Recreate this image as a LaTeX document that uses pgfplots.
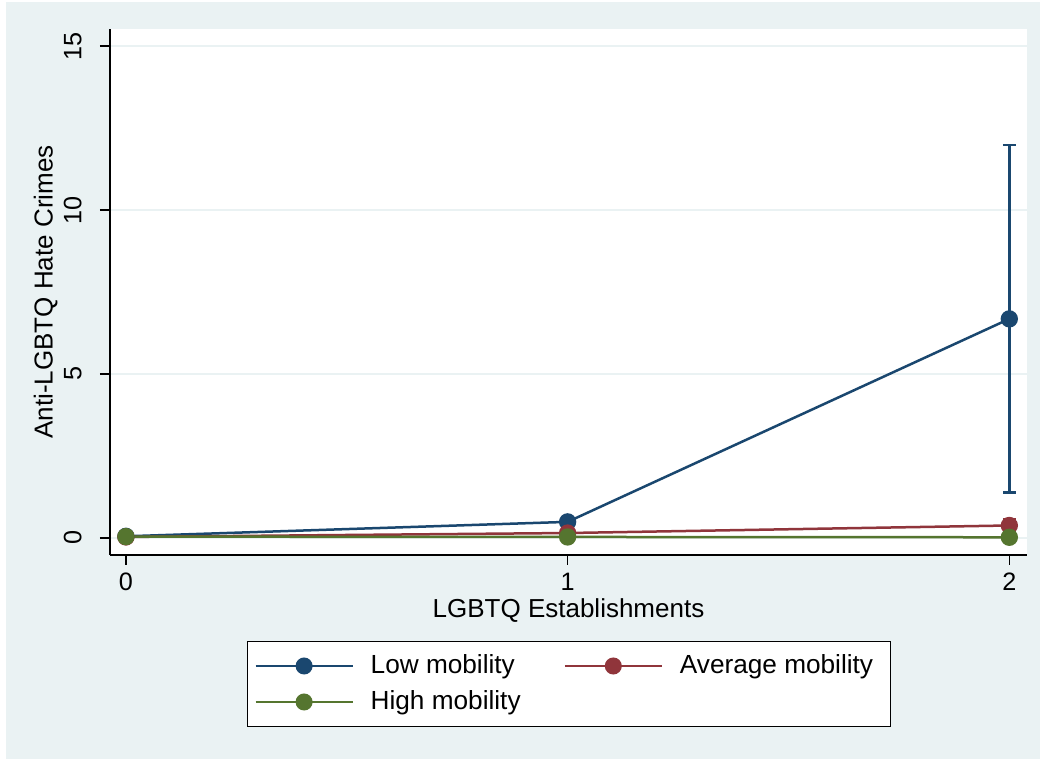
\documentclass[border=0pt]{standalone}
\usepackage{pgfplots}
\pgfplotsset{compat=1.18}
\usepackage{fontspec}
\setmainfont{Liberation Sans}
\definecolor{bgc}{RGB}{234,242,243}
\definecolor{snavy}{RGB}{26,71,111}
\definecolor{smaroon}{RGB}{144,53,59}
\definecolor{sgreen}{RGB}{85,117,47}
\pgfplotsset{ebars/.style={error bars/y dir=both, error bars/y explicit,
  error bars/error bar style={line width=1.2pt},
  error bars/error mark options={line width=1.2pt, mark size=3.25pt, rotate=90}}}
\begin{document}
\begin{tikzpicture}
\fill[white] (0,0) rectangle (520pt,379.5pt);
\fill[bgc] (3pt,0) rectangle (520pt,378.5pt);
\begin{axis}[
  at={(55pt,102pt)}, anchor=south west,
  scale only axis, width=458.5pt, height=263pt,
  xmin=-0.036, xmax=2.04, ymin=-0.52, ymax=15.52,
  axis background/.style={fill=white},
  axis lines*=left, axis line style={-, line width=0.75pt, black},
  xtick={0,1,2}, ytick={0,5,10,15},
  tick align=outside, major tick length=5pt,
  tick style={black, line width=0.75pt},
  /pgf/number format/assume math mode=true,
  ticklabel style={font=\fontsize{12.6}{14}\selectfont, inner sep=0pt},
  yticklabel style={rotate=90, anchor=south, yshift=9pt},
  xticklabel style={anchor=north, yshift=-4pt},
  ymajorgrids, grid style={bgc, line width=0.75pt},
  xlabel={LGBTQ Establishments}, ylabel={Anti-LGBTQ Hate Crimes},
  label style={font=\fontsize{13}{15}\selectfont, inner sep=0pt},
  xlabel style={at={(axis description cs:0.5,0)}, anchor=north, yshift=-21.5pt},
  ylabel style={at={(axis description cs:0,0.5)}, anchor=south, yshift=26pt},
  legend columns=2,
  legend style={at={(0.1494,-0.1635)}, anchor=north west, draw=black, line width=0.5pt, fill=white,
    inner xsep=3.5pt, inner ysep=3.25pt, column sep=0pt, row sep=0pt,
    font=\fontsize{13.1}{15}\selectfont,
    nodes={inner sep=0pt, minimum height=18pt, anchor=west}},
  legend image code/.code={\draw[mark repeat=2,mark phase=2, line width=1.1pt] plot coordinates {(0pt,0pt) (24.25pt,0pt) (48.5pt,0pt)};},
  every axis plot/.append style={line width=1.25pt, mark=*, mark size=3.7pt},
]
\addplot[snavy, mark options={fill=snavy, draw=snavy}, ebars] table[x=x, y=y, y error plus=e, y error minus=e] {
x y e
0 0.05 0.02
1 0.49 0.15
2 6.68 5.30
};
\addlegendentry{\hspace{8.5pt}\makebox[96.5pt][l]{Low mobility}}
\addplot[smaroon, mark options={fill=smaroon, draw=smaroon}, ebars] table[x=x, y=y, y error plus=e, y error minus=e] {
x y e
0 0.03 0.01
1 0.15 0.05
2 0.38 0.20
};
\addlegendentry{\hspace{8.5pt}\makebox[102pt][l]{Average mobility}}
\addplot[sgreen, mark options={fill=sgreen, draw=sgreen}, ebars] table[x=x, y=y, y error plus=e, y error minus=e] {
x y e
0 0.04 0.01
1 0.03 0.01
2 0.02 0.01
};
\addlegendentry{\hspace{8.5pt}\makebox[96.5pt][l]{High mobility}}
\end{axis}
\pgfresetboundingbox
\path (0,0) rectangle (520pt,379.5pt);
\end{tikzpicture}
\end{document}
